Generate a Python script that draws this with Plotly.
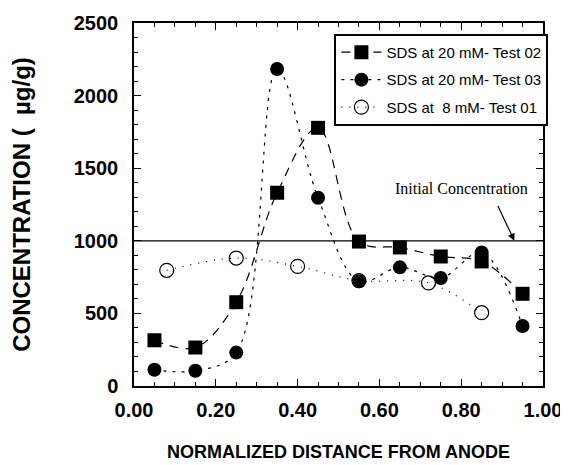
import plotly.graph_objects as go

# Data
x_sq = [0.05, 0.15, 0.25, 0.35, 0.45, 0.55, 0.65, 0.75, 0.85, 0.95]
y_sq = [315, 265, 577, 1331, 1778, 995, 954, 892, 858, 635]

x_fc = [0.05, 0.15, 0.25, 0.35, 0.45, 0.55, 0.65, 0.75, 0.85, 0.95]
y_fc = [112, 105, 230, 2183, 1297, 721, 817, 744, 920, 413]

x_oc = [0.08, 0.25, 0.40, 0.55, 0.72, 0.85]
y_oc = [797, 881, 824, 726, 710, 505]

names = ["SDS at 20 mM- Test 02", "SDS at 20 mM- Test 03", "SDS at  8 mM- Test 01"]
initial_conc = 1000
x_ticks = [0.0, 0.2, 0.4, 0.6, 0.8, 1.0]
y_ticks = [0, 500, 1000, 1500, 2000, 2500]

fig = go.Figure()
fig.add_trace(go.Scatter(
    x=x_sq, y=y_sq, name=names[0], mode="lines+markers", legendgroup="a",
    line=dict(color="black", width=1.2, dash="9px,7px", shape="spline", smoothing=1),
    marker=dict(symbol="square", size=14, color="black")))
fig.add_trace(go.Scatter(
    x=x_fc, y=y_fc, name=names[1], mode="lines+markers", legendgroup="b",
    line=dict(color="black", width=1.2, dash="3px,6px", shape="spline", smoothing=1),
    marker=dict(symbol="circle", size=14, color="black")))
fig.add_trace(go.Scatter(
    x=x_oc, y=y_oc, name=names[2], mode="lines+markers", legendgroup="c",
    line=dict(color="black", width=1.2, dash="1px,7px", shape="spline", smoothing=1),
    marker=dict(symbol="circle-open", size=14, color="black", line=dict(width=1.2))))

fig.add_shape(type="line", xref="x", yref="y", x0=0, x1=1, y0=initial_conc, y1=initial_conc,
              line=dict(color="black", width=1.2))
fig.add_annotation(x=0.93, y=initial_conc, ax=0.888, ay=1250, xref="x", yref="y",
                   axref="x", ayref="y", showarrow=True, arrowhead=2, arrowsize=1.2,
                   arrowwidth=1.2, arrowcolor="black", text="")
fig.add_annotation(x=0.80, y=1360, xref="x", yref="y", text="Initial Concentration",
                   showarrow=False, font=dict(family="Liberation Serif", size=16, color="black"))

axis_common = dict(showline=True, linecolor="black", linewidth=1.5, mirror="ticks",
                   ticks="inside", tickcolor="black", tickwidth=1.2, ticklen=7,
                   showgrid=False, zeroline=False, automargin=False,
                   tickfont=dict(family="Liberation Sans", size=20, color="black", weight="bold"))

fig.update_xaxes(range=[0, 1], tickvals=x_ticks, tickformat=".2f", ticklabelstandoff=5,
                 minor=dict(dtick=0.05, ticks="inside", ticklen=4, tickcolor="black", tickwidth=1),
                 title=dict(text="NORMALIZED DISTANCE FROM ANODE", standoff=26,
                            font=dict(family="Liberation Sans", size=18, color="black", weight="bold")),
                 **axis_common)
fig.update_yaxes(range=[0, 2500], tickvals=y_ticks, ticklabelstandoff=10,
                 minor=dict(dtick=100, ticks="inside", ticklen=4, tickcolor="black", tickwidth=1),
                 title=dict(text="CONCENTRATION (  µg/g)", standoff=36,
                            font=dict(family="Liberation Sans", size=24, color="black", weight="bold")),
                 **axis_common)

# page body adds an 8px offset, so the figure is laid out 8px smaller
fig.update_layout(
    width=560, height=457,
    margin=dict(l=126, r=25, t=15, b=79, autoexpand=False),
    paper_bgcolor="white", plot_bgcolor="white",
    legend=dict(x=0.49, y=0.97, xanchor="left", yanchor="top",
                bgcolor="white", bordercolor="black", borderwidth=2,
                tracegroupgap=5, itemwidth=40,
                font=dict(family="Liberation Sans", size=15, color="black")),
)

fig.write_html("out.html")
